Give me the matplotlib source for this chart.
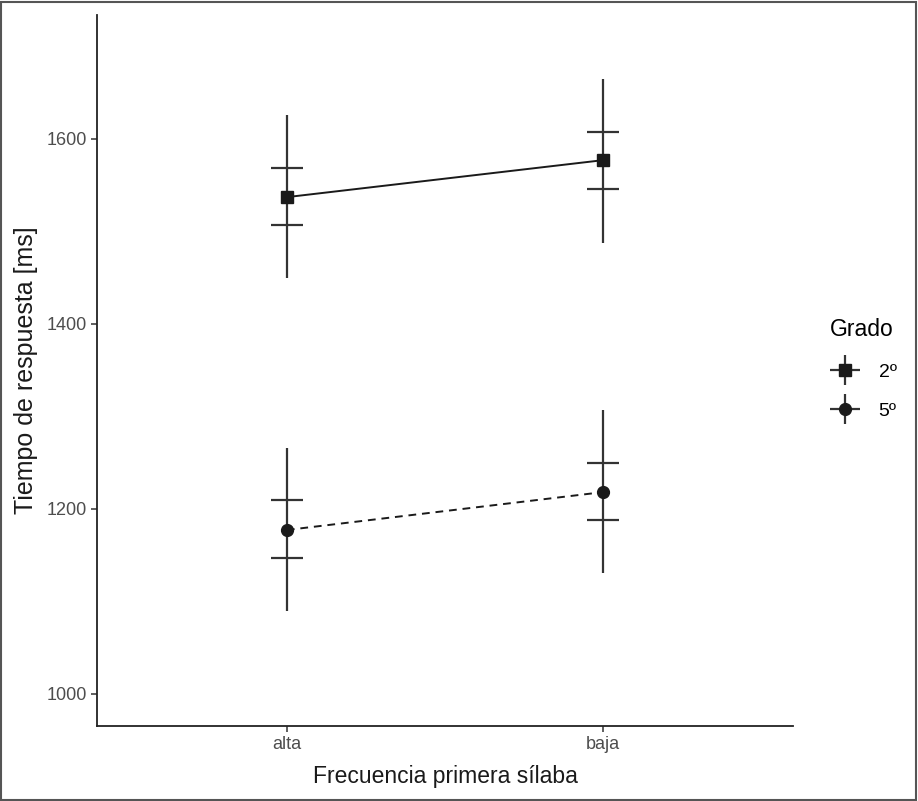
import matplotlib
matplotlib.use("Agg")
import matplotlib.pyplot as plt
from matplotlib.lines import Line2D
from matplotlib.patches import Rectangle
from matplotlib.legend_handler import HandlerTuple

plt.rcParams["font.family"] = ["Liberation Sans", "DejaVu Sans"]

categories = ["alta", "baja"]
grados = ["2º", "5º"]
means = {"2º": [1537, 1577], "5º": [1177, 1218]}
se_lo = {"2º": [1507, 1546], "5º": [1147, 1188]}
se_hi = {"2º": [1568, 1607], "5º": [1209, 1249]}
ci_lo = {"2º": [1450, 1487], "5º": [1089, 1130]}
ci_hi = {"2º": [1626, 1665], "5º": [1266, 1307]}
markers = {"2º": "s", "5º": "o"}
styles = {"2º": "-", "5º": (0, (4, 3))}

INK = "#1a1a1a"
BAR = "#333333"

fig = plt.figure(figsize=(9.18, 8.01), dpi=100)
ax = fig.add_axes([0.1057, 0.0936, 0.7581, 0.8877])
x = [1, 2]

for g in grados:
    m = means[g]
    # wide interval: plain vertical line
    ax.vlines(x, ci_lo[g], ci_hi[g], color=BAR, lw=1.6, zorder=2)
    # narrow interval: horizontal caps only
    for xi, lo, hi in zip(x, se_lo[g], se_hi[g]):
        ax.hlines([lo, hi], xi - 0.05, xi + 0.05, color=BAR, lw=1.6, zorder=2)
    ax.plot(x, m, color=INK, ls=styles[g], lw=1.4, zorder=3)
    ax.plot(x, m, ls="none", marker=markers[g], ms=8.5, color=INK, zorder=4)

ax.set_xlim(0.4, 2.6)
ax.set_ylim(965, 1734)
ax.set_xticks(x)
ax.set_xticklabels(categories)
ax.set_yticks([1000, 1200, 1400, 1600])
ax.tick_params(colors="#333333", labelcolor="#4d4d4d", labelsize=13,
               length=4, width=1.1)
for s in ("top", "right"):
    ax.spines[s].set_visible(False)
for s in ("left", "bottom"):
    ax.spines[s].set_linewidth(1.3)
    ax.spines[s].set_color("#222222")
ax.set_xlabel("Frecuencia primera sílaba", fontsize=16.5, color="#1a1a1a", labelpad=8)
ax.set_ylabel("Tiempo de respuesta [ms]", fontsize=18, color="#1a1a1a", labelpad=6)

handles = []
for g in grados:
    cross = Line2D([], [], ls="none", marker="+", ms=21, mew=1.6, color=BAR)
    dot = Line2D([], [], ls="none", marker=markers[g], ms=8.5, color=INK)
    handles.append((cross, dot))
leg = fig.legend(handles, grados, title="Grado", loc="upper left",
                 bbox_to_anchor=(0.885, 0.625), frameon=False, fontsize=14,
                 title_fontsize=16.5, handler_map={tuple: HandlerTuple(ndivide=1)},
                 handlelength=1.5, labelspacing=1.1, handletextpad=1.0,
                 borderaxespad=0.5)
leg._legend_box.align = "left"
leg._legend_box.sep = 16

fig.patches.append(Rectangle((0.001, 0.001), 0.997, 0.997, transform=fig.transFigure,
                             fill=False, edgecolor="#555555", lw=1.5))

fig.savefig("out.png", dpi=100)
